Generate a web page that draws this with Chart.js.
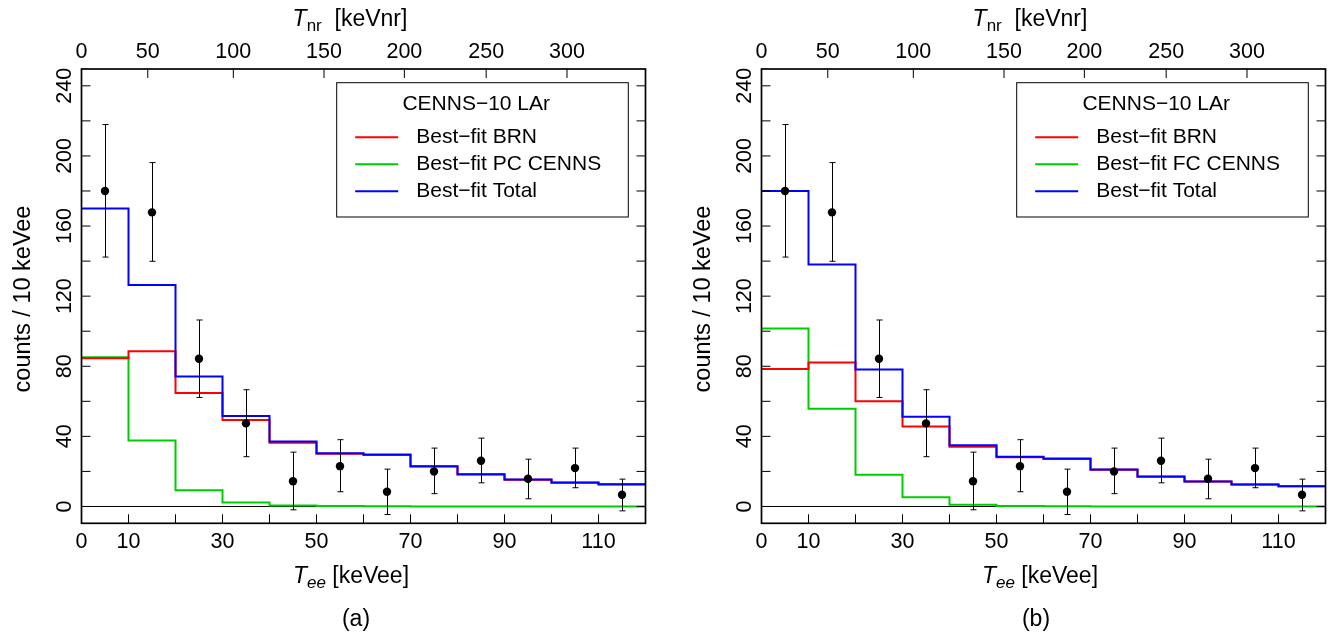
<!DOCTYPE html>
<html>
<head>
<meta charset="utf-8">
<script src="https://cdn.jsdelivr.net/npm/chart.js@4"></script>
<style>
  body { margin: 0; background: #fff; width: 1340px; height: 642px; position: relative; overflow: hidden; }
  canvas { position: absolute; top: 0; }
</style>
</head>
<body>
<canvas id="chartA" width="660" height="642" style="left:0"></canvas>
<canvas id="chartB" width="660" height="642" style="left:680px"></canvas>
<script>
'use strict'

// bins in keVee
const binEdges = [0, 10, 20, 30, 40, 50, 60, 70, 80, 90, 100, 110, 120]
const binCenters = [5, 15, 25, 35, 45, 55, 65, 75, 85, 95, 105, 115]

// measured counts with error bars
const dataCounts = [180.0, 167.8, 84.3, 47.4, 14.4, 23.0, 8.4, 20.0, 26.1, 15.8, 21.9, 6.7]
const dataLow = [142.3, 139.9, 62.2, 28.4, -1.9, 8.4, -4.6, 7.3, 13.5, 4.4, 10.7, -2.5]
const dataHigh = [217.9, 196.2, 106.4, 66.6, 31.0, 38.1, 21.3, 33.3, 39.0, 27.0, 33.3, 15.6]

// panel (a) best fit
const brnA = [84.5, 88.5, 64.7, 49.3, 36.4, 30.1, 29.4, 22.8, 18.2, 15.2, 13.5, 12.5]
const cennsA = [85.2, 37.7, 9.2, 2.2, 0.5, 0.2, 0.1, 0.05, 0, 0, 0, 0]
const totalA = [170.0, 126.3, 74.2, 51.6, 37.1, 30.4, 29.7, 23.0, 18.4, 15.4, 13.7, 12.7]

// panel (b) best fit
const brnB = [78.4, 82.2, 60.1, 45.7, 34.1, 28.1, 27.1, 20.9, 17.0, 14.2, 12.5, 11.5]
const cennsB = [101.5, 55.8, 18.1, 5.3, 1.0, 0.3, 0.1, 0.05, 0, 0, 0, 0]
const totalB = [180.0, 138.0, 78.2, 51.2, 35.0, 28.4, 27.4, 21.1, 17.1, 14.3, 12.6, 11.6]

// axis ticks
const teeTicks = [0, 10, 20, 30, 40, 50, 60, 70, 80, 90, 100, 110, 120]
const teeLabels = [0, 10, 30, 50, 70, 90, 110]
const tnrLabels = [0, 50, 100, 150, 200, 250, 300]
const tnrAsTee = [0, 14.1, 32.3, 51.6, 68.7, 86.1, 103.3]
const countTicks = [0, 20, 40, 60, 80, 100, 120, 140, 160, 180, 200, 220, 240]
const countLabels = [0, 40, 80, 120, 160, 200, 240]

const FONT = "'Liberation Sans', Arial, Helvetica, sans-serif"

const toSteps = function(vals) {
    return binEdges.map((x, i) => ({ x: x, y: vals[Math.min(i, vals.length - 1)] }))
}

const decorPlugin = {
    id: 'decor',
    beforeDatasetsDraw(chart) {
        const { ctx, scales: { x, y } } = chart
        ctx.save()
        ctx.strokeStyle = '#000'
        ctx.lineWidth = 1
        ctx.beginPath()
        ctx.moveTo(x.getPixelForValue(0), y.getPixelForValue(0))
        ctx.lineTo(x.getPixelForValue(120), y.getPixelForValue(0))
        ctx.stroke()
        ctx.restore()
    },
    afterDatasetsDraw(chart) {
        const { ctx, scales: { x, y } } = chart
        ctx.save()
        ctx.strokeStyle = '#000'
        ctx.lineWidth = 1
        binCenters.forEach((c, i) => {
            const px = Math.round(x.getPixelForValue(c)) + 0.5
            const lo = y.getPixelForValue(dataLow[i])
            const hi = y.getPixelForValue(dataHigh[i])
            ctx.beginPath()
            ctx.moveTo(px, lo)
            ctx.lineTo(px, hi)
            ctx.moveTo(px - 3, lo)
            ctx.lineTo(px + 3, lo)
            ctx.moveTo(px - 3, hi)
            ctx.lineTo(px + 3, hi)
            ctx.stroke()
        })
        ctx.restore()
    },
    afterDraw(chart) {
        const { ctx, chartArea: a, scales: { x, y } } = chart
        const cfg = chart.options.plugins.decor
        ctx.save()
        ctx.strokeStyle = '#000'
        ctx.fillStyle = '#000'

        // frame
        ctx.lineWidth = 1.7
        ctx.strokeRect(a.left, a.top, a.right - a.left, a.bottom - a.top)

        // inward ticks
        ctx.lineWidth = 1
        ctx.beginPath()
        teeTicks.forEach(v => {
            const px = x.getPixelForValue(v)
            ctx.moveTo(px, a.bottom)
            ctx.lineTo(px, a.bottom - 9)
        })
        tnrAsTee.forEach(v => {
            const px = x.getPixelForValue(v)
            ctx.moveTo(px, a.top)
            ctx.lineTo(px, a.top + 9)
        })
        countTicks.forEach(v => {
            const py = y.getPixelForValue(v)
            ctx.moveTo(a.left, py)
            ctx.lineTo(a.left + 9, py)
            ctx.moveTo(a.right, py)
            ctx.lineTo(a.right - 9, py)
        })
        ctx.stroke()

        // tick labels
        ctx.font = '21.5px ' + FONT
        ctx.textAlign = 'center'
        ctx.textBaseline = 'middle'
        teeLabels.forEach(v => {
            ctx.fillText(String(v), x.getPixelForValue(v), a.bottom + 19)
        })
        tnrLabels.forEach((v, i) => {
            ctx.fillText(String(v), x.getPixelForValue(tnrAsTee[i]), a.top - 17)
        })
        countLabels.forEach(v => {
            ctx.save()
            ctx.translate(a.left - 16.5, y.getPixelForValue(v))
            ctx.rotate(-Math.PI / 2)
            ctx.fillText(String(v), 0, 0)
            ctx.restore()
        })

        // axis titles
        const drawSub = function(parts, cx, cy) {
            let total = 0
            parts.forEach(p => { ctx.font = p.font; total += ctx.measureText(p.text).width })
            let cur = cx - total / 2
            ctx.textAlign = 'left'
            parts.forEach(p => {
                ctx.font = p.font
                ctx.fillText(p.text, cur, cy + (p.dy || 0))
                cur += ctx.measureText(p.text).width
            })
        }
        ctx.textBaseline = 'alphabetic'
        drawSub([
            { text: 'T', font: 'italic 23px ' + FONT },
            { text: 'nr', font: '17px ' + FONT, dy: 5 },
            { text: '  [keVnr]', font: '23px ' + FONT }
        ], a.left + 268.5, 26)
        drawSub([
            { text: 'T', font: 'italic 23px ' + FONT },
            { text: 'ee', font: 'italic 17px ' + FONT, dy: 5 },
            { text: ' [keVee]', font: '23px ' + FONT }
        ], cfg.teeCenter, 583)

        ctx.save()
        ctx.font = '23.5px ' + FONT
        ctx.textAlign = 'center'
        ctx.textBaseline = 'middle'
        ctx.translate(24, 299)
        ctx.rotate(-Math.PI / 2)
        ctx.fillText('counts / 10 keVee', 0, 0)
        ctx.restore()

        ctx.font = '23px ' + FONT
        ctx.textAlign = 'center'
        ctx.textBaseline = 'middle'
        ctx.fillText(cfg.caption, 356, 620)

        // legend
        const lx = a.left + 255.2
        const ly = 82.7
        ctx.lineWidth = 1
        ctx.strokeRect(lx, ly, 291.6, 134.3)
        ctx.font = '21px ' + FONT
        ctx.textAlign = 'center'
        ctx.fillText('CENNS−10 LAr', lx + 139.5, ly + 21.5)
        ctx.textAlign = 'left'
        cfg.entries.forEach((e, i) => {
            const ey = ly + 54.5 + i * 27
            ctx.strokeStyle = e.color
            ctx.lineWidth = 2
            ctx.beginPath()
            ctx.moveTo(lx + 18.5, ey)
            ctx.lineTo(lx + 61.5, ey)
            ctx.stroke()
            ctx.fillStyle = '#000'
            ctx.fillText(e.label, lx + 79.5, ey)
        })
        ctx.restore()
    }
}

const makeChart = function(id, brn, cenns, total, cennsName, caption, teeCenter) {
    const lineSet = (vals, color) => ({
        data: toSteps(vals),
        stepped: true,
        borderColor: color,
        borderWidth: 2,
        pointRadius: 0,
        fill: false
    })
    return new Chart(document.getElementById(id), {
        type: 'line',
        data: {
            datasets: [
                {
                    data: binCenters.map((c, i) => ({ x: c, y: dataCounts[i] })),
                    showLine: false,
                    pointRadius: 4.2,
                    pointBorderWidth: 0,
                    backgroundColor: '#000',
                    borderColor: '#000'
                },
                lineSet(total, '#0000ff'),
                lineSet(brn, '#ff0000'),
                lineSet(cenns, '#00cd00')
            ]
        },
        options: {
            responsive: false,
            animation: false,
            events: [],
            layout: { padding: { left: 81.5, right: 14.5, top: 69, bottom: 118.7 } },
            plugins: {
                legend: { display: false },
                tooltip: { enabled: false },
                decor: {
                    caption: caption,
                    teeCenter: teeCenter,
                    entries: [
                        { label: 'Best−fit BRN', color: '#ff0000' },
                        { label: cennsName, color: '#00cd00' },
                        { label: 'Best−fit Total', color: '#0000ff' }
                    ]
                }
            },
            scales: {
                x: { type: 'linear', min: 0, max: 120, display: false },
                y: { type: 'linear', min: -9.6, max: 249.6, display: false }
            }
        },
        plugins: [decorPlugin]
    })
}

makeChart('chartA', brnA, cennsA, totalA, 'Best−fit PC CENNS', '(a)', 351)
makeChart('chartB', brnB, cennsB, totalB, 'Best−fit FC CENNS', '(b)', 360)
</script>
</body>
</html>
